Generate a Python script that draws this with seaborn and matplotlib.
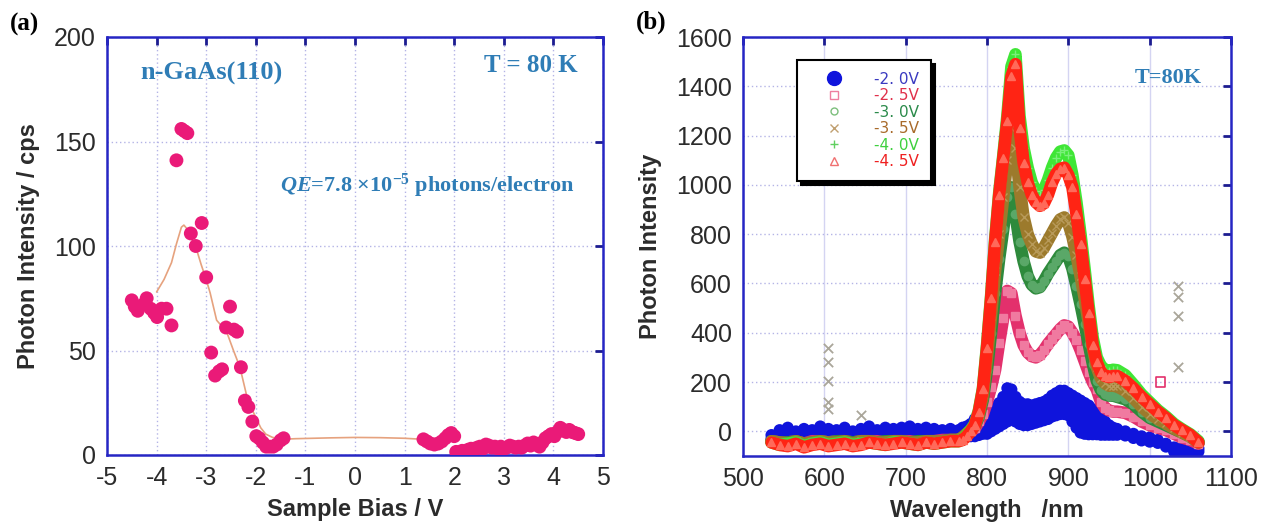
import numpy as np
import pandas as pd
import matplotlib
matplotlib.use("Agg")
import matplotlib.pyplot as plt
from matplotlib.lines import Line2D
import seaborn as sns

# ---------------- Panel (a) data ----------------
bias_a = [-4.50, -4.44, -4.38, -4.27, -4.20, -4.12, -4.05, -3.99, -3.90, -3.80, -3.70,
          -3.60, -3.50, -3.44, -3.38, -3.31, -3.21, -3.09, -3.00, -2.90, -2.82, -2.74,
          -2.68, -2.60, -2.52, -2.44, -2.38, -2.30, -2.22, -2.15, -2.07, -1.99, -1.93,
          -1.86, -1.79, -1.72, -1.65, -1.58, -1.50, -1.44,
          1.38, 1.45, 1.52, 1.60, 1.68, 1.75, 1.82, 1.88, 1.94, 2.00,
          2.04, 2.10, 2.16, 2.22, 2.28, 2.34, 2.40, 2.46, 2.52, 2.58, 2.64, 2.70, 2.76,
          2.82, 2.88, 2.94, 3.00, 3.06, 3.12, 3.18, 3.24, 3.30, 3.36, 3.42, 3.48, 3.54,
          3.60, 3.66, 3.72, 3.78, 3.84, 3.90, 3.96, 4.02, 4.08, 4.14, 4.20, 4.26, 4.32,
          4.38, 4.44, 4.50]
intensity_a = [74, 71, 69, 72, 75, 70, 68, 66, 70, 70, 62,
               141, 156, 155, 154, 106, 100, 111, 85, 49, 38, 40,
               41, 61, 71, 60, 59, 42, 26, 23, 16, 9, 8,
               6, 4, 4, 4, 5, 7, 8,
               7.5, 6.5, 5.5, 5, 5.5, 6.5, 8, 9.5, 10.5, 9,
               1.5, 1, 2, 1.5, 2.5, 3, 2.5, 3.5, 4, 3, 5, 4.5, 3.5,
               4, 3, 4, 3, 3.5, 4.5, 4, 3.5, 4, 3.5, 4.5, 5.5, 4.5,
               6, 5, 4, 6, 8, 9, 10, 9, 11, 13, 12, 11, 12,
               11, 10.5, 10]
curve_bias = [-4.0, -3.85, -3.7, -3.6, -3.5, -3.45, -3.38, -3.3, -3.19, -3.1, -3.0, -2.92,
              -2.79, -2.7, -2.62, -2.45, -2.32, -2.19, -2.1, -1.99, -1.9, -1.8, -1.67, -1.5,
              -1.2, -0.5, 0.0, 0.5, 1.0, 1.3]
curve_int = [78, 84, 92, 101, 109, 110, 108, 104, 98, 91, 84, 77.5,
             64.5, 62, 61, 50, 42, 29, 23, 17.5, 13, 10, 8.5, 7.5,
             7.8, 8.2, 8.4, 8.3, 8.0, 7.6]

# ---------------- Panel (b) data ----------------
wl = [535, 545, 555, 565, 575, 585, 595, 605, 615, 625, 635, 645, 655, 665, 675, 685,
      695, 705, 715, 725, 735, 745, 755, 765,
      770, 775, 780, 785, 790, 795, 800, 805, 810, 815, 820, 825, 830, 835, 840, 845,
      850, 855, 860, 865, 870, 875, 880, 885, 890, 895, 900, 905, 910, 915, 920, 925,
      930, 935, 940, 945, 950, 955, 960,
      970, 980, 990, 1000, 1010, 1020, 1030, 1040, 1050, 1060]

blue_hi = [-15, 5, 15, 0, 10, 5, 20, 10, 5, 15, 0, 10, 20, 5, 15, 10, 15, 20, 10, 15, 10, 5, 10, 5,
           15, 20, 30, 50, 60, 70, 90, 95, 100, 115, 140, 175, 170, 140, 120, 110, 110, 105,
           110, 115, 120, 130, 145, 155, 165, 165, 155, 145, 135, 125, 115, 105, 90, 70, 55,
           40, 25, 15, 10,
           0, -10, -20, -25, -35, -50, -65, -60, -55, -70]
blue_lo = [-30, -25, -20, -25, -20, -25, -20, -25, -20, -20, -25, -20, -20, -25, -20, -20,
           -25, -20, -20, -25, -20, -20, -25, -20,
           -20, -20, -20, -20, -15, -10, -10, 0, 10, 20, 30, 40, 50, 40, 30, 25, 25, 30,
           35, 40, 45, 50, 60, 65, 70, 70, 65, 40, 15, -5, -10, -12, -12, -12, -14,
           -14, -14, -14, -14,
           -17, -27, -37, -42, -47, -62, -82, -82, -82, -82]
pink_25 = [-40, -45, -45, -40, -50, -40, -40, -45, -40, -40, -45, -40, -40, -40, -45, -40,
           -40, -40, -45, -40, -40, -35, -35, -35,
           -25, -10, 0, 12, 40, 70, 120, 180, 250, 360, 460, 570, 560, 470, 400, 350, 320,
           305, 300, 310, 330, 355, 375, 395, 415, 430, 425, 400, 370, 330, 285, 240, 200,
           170, 120, 95, 85, 80, 80,
           75, 60, 40, 25, 15, 5, -10, -25, -35, -50]
green_30 = [-40, -45, -45, -40, -50, -45, -40, -45, -40, -40, -45, -40, -40, -45, -40, -40,
            -40, -45, -40, -40, -40, -40, -35, -35,
            -25, -10, 5, 22, 60, 130, 250, 400, 560, 700, 820, 950, 990, 880, 770, 690, 630,
            595, 580, 585, 610, 640, 665, 690, 715, 725, 710, 660, 590, 515, 435, 355, 275,
            205, 168, 150, 145, 145, 140,
            130, 110, 80, 55, 40, 25, 10, -5, -20, -45]
olive_35 = [-40, -45, -50, -40, -50, -45, -40, -45, -45, -40, -50, -40, -40, -45, -45, -40,
            -40, -45, -45, -40, -40, -40, -35, -35,
            -25, -10, 5, 25, 70, 150, 300, 470, 650, 800, 950, 1100, 1230, 1150, 990, 870,
            800, 760, 730, 725, 745, 775, 805, 835, 860, 868, 845, 790, 715, 630, 540, 440,
            340, 260, 215, 195, 185, 185, 182,
            165, 135, 100, 72, 50, 32, 12, -5, -22, -45]
lime_40 = [-45, -55, -50, -45, -60, -50, -45, -55, -50, -45, -55, -50, -45, -50, -55, -45,
           -45, -50, -55, -45, -50, -45, -40, -40,
           -32, -15, 5, 30, 85, 175, 350, 550, 780, 970, 1120, 1280, 1480, 1530, 1280, 1150,
           1070, 1010, 975, 960, 980, 1020, 1070, 1110, 1135, 1140, 1120, 1040, 930, 800,
           660, 510, 380, 300, 265, 250, 245, 250, 248,
           228, 190, 150, 118, 86, 60, 30, 8, -12, -40]
red_45 = [-45, -55, -60, -50, -65, -55, -50, -60, -55, -50, -60, -55, -45, -50, -55, -50,
          -45, -50, -55, -45, -50, -45, -40, -40,
          -35, -20, 0, 25, 80, 170, 340, 540, 770, 960, 1110, 1260, 1440, 1490, 1230, 1090,
          1010, 960, 930, 915, 925, 960, 1010, 1045, 1065, 1070, 1040, 990, 880, 760, 620,
          480, 350, 280, 240, 225, 220, 225, 225,
          205, 175, 140, 110, 80, 55, 25, 5, -15, -45]

stray_x_wl = [605, 605, 605, 605, 605, 645, 1035, 1035, 1035, 1035]
stray_x_val = [340, 280, 205, 120, 90, 65, 590, 545, 470, 260]
stray_sq_wl = [1013]
stray_sq_val = [200]

legend_labels = ["-2. 0V", "-2. 5V", "-3. 0V", "-3. 5V", "-4. 0V", "-4. 5V"]

# ---------------- style ----------------
sns.set_theme(style="white")
plt.rcParams["font.family"] = ["Liberation Sans", "DejaVu Sans"]
plt.rcParams["axes.unicode_minus"] = False
plt.rcParams["mathtext.fontset"] = "custom"
plt.rcParams["mathtext.rm"] = "Liberation Serif:bold"
plt.rcParams["mathtext.it"] = "Liberation Serif:italic:bold"
plt.rcParams["mathtext.bf"] = "Liberation Serif:bold"

W, H = 1265, 530
fig = plt.figure(figsize=(W / 100, H / 100), dpi=100)
axa = fig.add_axes([107 / W, 75 / H, 496 / W, 418 / H])
axb = fig.add_axes([743 / W, 74 / H, 488 / W, 419 / H])

SPINE = "#2626c4"
TICKC = "#1c1c90"
LABC = "#2b2b2b"
TXTBLUE = "#2f7db6"


def style_axes(ax):
    for sp in ax.spines.values():
        sp.set_color(SPINE)
        sp.set_linewidth(1.8)
    ax.tick_params(direction="in", length=6, width=2, color=TICKC, top=True, right=True,
                   labelsize=18, labelcolor=LABC, pad=8)
    ax.set_axisbelow(True)


# ---------------- Panel (a) ----------------
sns.lineplot(x=curve_bias, y=curve_int, ax=axa, color="#e6a27e", lw=1.2, sort=False,
             estimator=None)
sns.scatterplot(x=bias_a, y=intensity_a, ax=axa, color="#ea1a78", s=100, edgecolor="none",
                zorder=3)
axa.set_xlim(-5, 5)
axa.set_ylim(0, 200)
axa.set_xticks(range(-5, 6))
axa.set_yticks(range(0, 201, 50))
axa.grid(True, color="#b4b4e6", ls=(0, (1, 2)), lw=1)
style_axes(axa)
axa.set_xlabel("Sample Bias / V", fontsize=17, fontweight="bold", color=LABC, labelpad=6)
axa.set_ylabel("Photon Intensity / cps", fontsize=17, fontweight="bold", color=LABC,
               labelpad=10)

fig.text(140 / W, 1 - 73 / H, "n-GaAs(110)", family="Liberation Serif", weight="bold",
         color=TXTBLUE, fontsize=19, va="center", ha="left")
fig.text(578 / W, 1 - 65 / H, "T = 80 K", family="Liberation Serif", weight="bold",
         color=TXTBLUE, fontsize=18, va="center", ha="right")
fig.text(575 / W, 1 - 186 / H, r"$\mathit{QE}$=7.8 ×10$^{-5}$ photons/electron",
         family="Liberation Serif", weight="bold", color=TXTBLUE, fontsize=16,
         va="center", ha="right")

# ---------------- Panel (b) ----------------
BLUE = "#0f14dc"
PINK = "#e3306c"
GREEN = "#2e8a3c"
OLIVE = "#9c7a2c"
LIME = "#3fe636"
RED = "#ff2414"

axb.fill_between(wl, blue_lo, blue_hi, color=BLUE, lw=0, zorder=2)
sns.scatterplot(x=wl, y=blue_hi, ax=axb, color=BLUE, s=75, edgecolor="none", zorder=2)
sns.scatterplot(x=wl, y=blue_lo, ax=axb, color=BLUE, s=75, edgecolor="none", zorder=2)

series = [
    (pink_25, PINK, "s", "#f07aa0"),
    (green_30, GREEN, "o", "#5aa868"),
    (olive_35, OLIVE, "x", "#b89a5a"),
    (lime_40, LIME, "+", "#7af07a"),
    (red_45, RED, "^", "#ff6a5a"),
]
for i, (vals, col, mk, mfc) in enumerate(series):
    sns.lineplot(x=wl, y=vals, ax=axb, color=col, lw=9, sort=False, estimator=None,
                 solid_joinstyle="round", solid_capstyle="round", zorder=3 + i)
    sns.lineplot(x=wl, y=vals, ax=axb, color=col, lw=0, sort=False, estimator=None,
                 marker=mk, markersize=6, markerfacecolor=mfc, markeredgecolor=mfc,
                 markeredgewidth=1.0, zorder=3 + i)

sns.scatterplot(x=stray_x_wl, y=stray_x_val, ax=axb, marker="x", color="#aaa69a", s=45,
                linewidth=1.3, zorder=9)
sns.scatterplot(x=stray_sq_wl, y=stray_sq_val, ax=axb, marker="s", facecolor="none",
                edgecolor=PINK, s=45, linewidth=1.2, zorder=9)

axb.set_xlim(500, 1100)
axb.set_ylim(-100, 1600)
axb.set_xticks(range(500, 1101, 100))
axb.set_yticks(range(0, 1601, 200))
axb.grid(True, axis="y", color="#b4b4e6", ls=(0, (1, 2)), lw=1)
axb.grid(True, axis="x", color="#d4d4f2", ls="-", lw=1)
style_axes(axb)
axb.set_xlabel("Wavelength   /nm", fontsize=17, fontweight="bold", color=LABC, labelpad=6)
axb.set_ylabel("Photon Intensity", fontsize=17, fontweight="bold", color=LABC, labelpad=10)

fig.text(1135 / W, 1 - 78 / H, "T=80K", family="Liberation Serif", weight="bold",
         color=TXTBLUE, fontsize=16, va="center", ha="left")

handles = [
    Line2D([], [], ls="none", marker="o", color=BLUE, markersize=10),
    Line2D([], [], ls="none", marker="s", mfc="none", mec="#ee7f9f", markersize=6),
    Line2D([], [], ls="none", marker="o", mfc="none", mec="#7cbf7c", markersize=5),
    Line2D([], [], ls="none", marker="x", color="#c0a070", markersize=6),
    Line2D([], [], ls="none", marker="+", color="#60d060", markersize=6),
    Line2D([], [], ls="none", marker="^", mfc="none", mec="#f07070", markersize=6),
]
leg = axb.legend(handles, legend_labels, loc="upper left", bbox_to_anchor=(0.111, 0.945),
                 borderaxespad=0, frameon=True, fancybox=False, handlelength=3.3,
                 handletextpad=1.0, borderpad=0.75, labelspacing=0.1,
                 prop={"size": 11, "family": "Liberation Sans Narrow"},
                 labelcolor=["#3a3ac0", "#e0304a", "#2a8a4a", "#a86a2a", "#3ed03e", "#ef2020"],
                 shadow={"ox": 3, "oy": -3, "color": "black", "alpha": 1})
leg.get_frame().set_edgecolor("black")
leg.get_frame().set_linewidth(1.5)
leg.set_zorder(20)

fig.text(10 / W, 1 - 24 / H, "(a)", family="Liberation Serif", weight="bold",
         fontsize=18, va="center", ha="left", color="black")
fig.text(636 / W, 1 - 22 / H, "(b)", family="Liberation Serif", weight="bold",
         fontsize=18, va="center", ha="left", color="black")

fig.savefig("out.png", dpi=100)
